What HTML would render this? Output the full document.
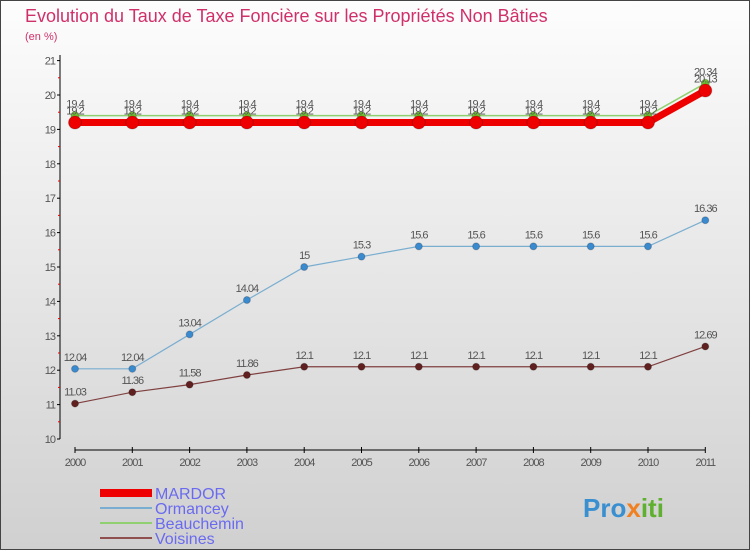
<!DOCTYPE html>
<html><head><meta charset="utf-8"><style>
body{margin:0}
svg text{font-family:"Liberation Sans",sans-serif}
</style></head><body>
<svg width="750" height="550" xmlns="http://www.w3.org/2000/svg">
<defs>
<linearGradient id="bg" x1="0" y1="0" x2="0" y2="1"><stop offset="0" stop-color="#fdfdfd"/><stop offset="1" stop-color="#d0d0d0"/></linearGradient>
</defs>
<rect x="0.5" y="0.5" width="749" height="549" fill="url(#bg)" stroke="#444"/>
<text x="25" y="22" font-size="18" fill="#d0306a">Evolution du Taux de Taxe Foncière sur les Propriétés Non Bâties</text>
<text x="25" y="40" font-size="11" fill="#d0306a">(en %)</text>
<g id="axes"></g>
<g id="series"></g>
<g>
<rect x="100" y="489" width="52" height="8" fill="#e00"/>
<text x="155" y="499" font-size="16" fill="#6a6af0">MARDOR</text>
<rect x="100" y="507" width="52" height="2" fill="#7aaed0"/>
<text x="155" y="514" font-size="16" fill="#6a6af0">Ormancey</text>
<rect x="100" y="522" width="52" height="2" fill="#90d070"/>
<text x="155" y="529" font-size="16" fill="#6a6af0">Beauchemin</text>
<rect x="100" y="537" width="52" height="2" fill="#905050"/>
<text x="155" y="544" font-size="16" fill="#6a6af0">Voisines</text>
</g>
<text x="583" y="517" font-size="26" font-weight="bold" fill="#3a8fd0">Pro<tspan fill="#f08020">x</tspan><tspan fill="#60b030">iti</tspan></text>
</svg>
<script>
const years=[2000,2001,2002,2003,2004,2005,2006,2007,2008,2009,2010,2011];
const yTicks=[10,11,12,13,14,15,16,17,18,19,20,21];
const mardor=[19.2,19.2,19.2,19.2,19.2,19.2,19.2,19.2,19.2,19.2,19.2,20.13];
const ormancey=[12.04,12.04,13.04,14.04,15,15.3,15.6,15.6,15.6,15.6,15.6,16.36];
const beauchemin=[19.4,19.4,19.4,19.4,19.4,19.4,19.4,19.4,19.4,19.4,19.4,20.34];
const voisines=[11.03,11.36,11.58,11.86,12.1,12.1,12.1,12.1,12.1,12.1,12.1,12.69];
const NS="http://www.w3.org/2000/svg";
const xs=i=>75+i*57.3, ys=v=>439-(v-10)*34.4;
function mk(tag,attrs,parent){const e=document.createElementNS(NS,tag);for(const k in attrs)e.setAttribute(k,attrs[k]);parent.appendChild(e);return e;}
const ax=document.getElementById('axes');
let l=mk('line',{x1:60,y1:55,x2:60,y2:439,stroke:'#000'},ax);


l=mk('line',{x1:75,y1:450,x2:705,y2:450,stroke:'#000'},ax);


yTicks.forEach(v=>{
 mk('line',{x1:57,y1:ys(v),x2:60,y2:ys(v),stroke:'#000'},ax);
 const t=mk('text',{x:55,y:ys(v)+4,'font-size':11,fill:'#555','text-anchor':'end','letter-spacing':'-1'},ax);
 t.textContent=v;
 
 
 if(v<21)mk('line',{x1:58,y1:ys(v+0.5),x2:60,y2:ys(v+0.5),stroke:'#e00'},ax);
});
years.forEach((y,i)=>{
 mk('line',{x1:xs(i),y1:447,x2:xs(i),y2:453,stroke:'#000'},ax);
 const t=mk('text',{x:xs(i),y:466,'font-size':11,fill:'#555','text-anchor':'middle','letter-spacing':'-1'},ax);
 t.textContent=y;
 
 
});
const sg=document.getElementById('series');
function series(name,vals,color,w,r,dot,labelDy){
 const g=mk('g',{},sg);
 
 
 mk('polyline',{points:vals.map((v,i)=>xs(i)+','+ys(v)).join(' '),fill:'none',stroke:color,'stroke-width':w},g);
 vals.forEach((v,i)=>{
  const c=mk('circle',{cx:xs(i),cy:ys(v),r:r,fill:dot,stroke:'#0003'},g);
  
  
  const t=mk('text',{x:xs(i),y:ys(v)+labelDy,'font-size':11,fill:'#555','text-anchor':'middle','letter-spacing':'-1'},g);
  t.textContent=String(v);
  
  
 });
}
series('voisines',voisines,'#804040',1.2,3.5,'#602020',-8);
series('ormancey',ormancey,'#7aaed0',1.2,3.5,'#3a8ad0',-8);
series('beauchemin',beauchemin,'#90d070',1.5,4,'#70c030',-8);
series('mardor',mardor,'#ee0000',7,6.5,'#e00',-8);
</script>
</body></html>
